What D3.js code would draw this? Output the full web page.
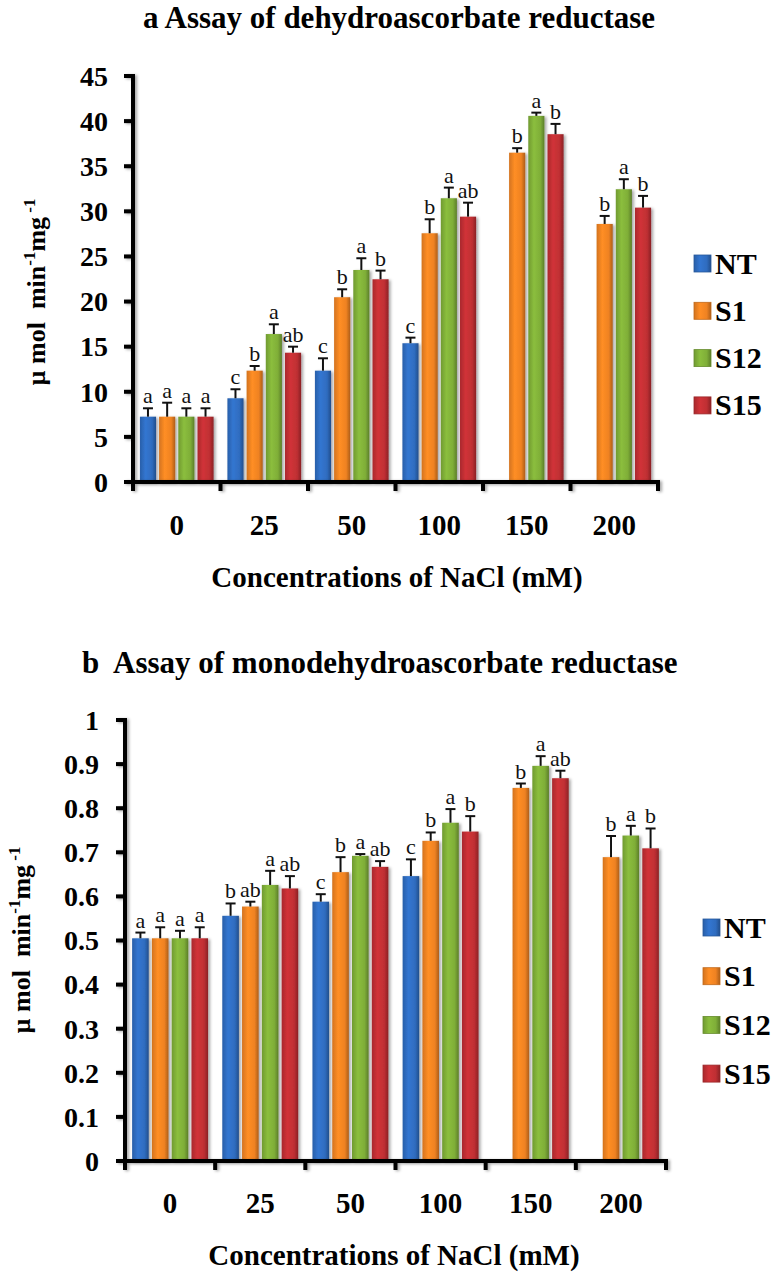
<!DOCTYPE html>
<html>
<head>
<meta charset="utf-8">
<script src="https://cdn.jsdelivr.net/npm/d3@7"></script>
<style>
  html, body { margin: 0; padding: 0; background: #fff; }
  text { font-family: "Liberation Serif", "Times New Roman", serif; }
</style>
</head>
<body>
<svg id="chart" width="774" height="1273"></svg>
<script>
// ---------- DATA ----------
const categories = ["0", "25", "50", "100", "150", "200"];
const series = ["NT", "S1", "S12", "S15"];
const colors = ["#2f6cbf", "#ef8222", "#7fae38", "#bf2f33"];

// Panel a: dehydroascorbate reductase
const aNT  = [7.24, 9.28, 12.34, 15.38, null, null];
const aS1  = [7.24, 12.34, 20.48, 27.57, 36.5, 28.6];
const aS12 = [7.24, 16.4, 23.5, 31.45, 40.58, 32.45];
const aS15 = [7.24, 14.33, 22.47, 29.41, 38.55, 30.41];
const aErrNT  = [0.93, 1.0, 1.37, 0.62, null, null];
const aErrS1  = [1.55, 0.52, 0.88, 1.55, 0.5, 0.89];
const aErrS12 = [0.93, 1.08, 1.3, 1.18, 0.36, 1.11];
const aErrS15 = [0.93, 0.67, 0.96, 1.55, 1.14, 1.3];
const aLetNT  = ["a", "c", "c", "c", "", ""];
const aLetS1  = ["a", "b", "b", "b", "b", "b"];
const aLetS12 = ["a", "a", "a", "a", "a", "a"];
const aLetS15 = ["a", "ab", "b", "ab", "b", "b"];
const aTicks = [0, 5, 10, 15, 20, 25, 30, 35, 40, 45];
const aTickLabels = ["0", "5", "10", "15", "20", "25", "30", "35", "40", "45"];

// Panel b: monodehydroascorbate reductase
const bNT  = [0.505, 0.556, 0.588, 0.646, null, null];
const bS1  = [0.505, 0.577, 0.655, 0.726, 0.846, 0.689];
const bS12 = [0.505, 0.626, 0.692, 0.767, 0.896, 0.738];
const bS15 = [0.505, 0.618, 0.667, 0.747, 0.868, 0.709];
const bErrNT  = [0.013, 0.028, 0.017, 0.038, null, null];
const bErrS1  = [0.025, 0.011, 0.034, 0.019, 0.010, 0.048];
const bErrS12 = [0.017, 0.032, 0.004, 0.031, 0.022, 0.022];
const bErrS15 = [0.025, 0.028, 0.013, 0.035, 0.017, 0.045];
const bLetNT  = ["a", "b", "c", "c", "", ""];
const bLetS1  = ["a", "ab", "b", "b", "b", "b"];
const bLetS12 = ["a", "a", "a", "a", "a", "a"];
const bLetS15 = ["a", "ab", "ab", "b", "ab", "b"];
const bTicks = [0, 0.1, 0.2, 0.3, 0.4, 0.5, 0.6, 0.7, 0.8, 0.9, 1];
const bTickLabels = ["0", "0.1", "0.2", "0.3", "0.4", "0.5", "0.6", "0.7", "0.8", "0.9", "1"];

const xTitle = "Concentrations of NaCl (mM)";

// ---------- DRAW ----------
const svg = d3.select("#chart");
svg.append("rect").attr("width", 774).attr("height", 1273).attr("fill", "#fff");

const defs = svg.append("defs");
colors.forEach((c, i) => {
  const base = d3.color(c);
  const g = defs.append("linearGradient").attr("id", "grad" + i)
    .attr("x1", "0%").attr("x2", "100%").attr("y1", "0%").attr("y2", "0%");
  g.append("stop").attr("offset", "0%").attr("stop-color", base.darker(0.35));
  g.append("stop").attr("offset", "35%").attr("stop-color", base.brighter(0.25));
  g.append("stop").attr("offset", "75%").attr("stop-color", base);
  g.append("stop").attr("offset", "100%").attr("stop-color", base.darker(0.9));
});
const filt = defs.append("filter").attr("id", "shadow")
  .attr("x", "-30%").attr("y", "-10%").attr("width", "160%").attr("height", "120%");
filt.append("feDropShadow").attr("dx", 2).attr("dy", 1).attr("stdDeviation", 1.4)
  .attr("flood-color", "#000").attr("flood-opacity", 0.35);

function panel(cfg) {
  const g = svg.append("g");
  const x = d3.scaleBand().domain(categories).range([cfg.x0, cfg.x1]).padding(0);
  const xs = d3.scaleBand().domain(series).range([0, x.bandwidth()])
    .paddingInner(0.16).paddingOuter(0.36);
  const y = d3.scaleLinear().domain([0, cfg.ymax]).range([cfg.y0, cfg.y1]);

  // bars
  const rows = [];
  categories.forEach((cat, ci) => {
    series.forEach((s, si) => {
      const v = cfg.vals[si][ci];
      if (v == null) return;
      rows.push({cat, s, si, v, e: cfg.errs[si][ci], l: cfg.lets[si][ci]});
    });
  });
  const bars = g.append("g");
  bars.selectAll("rect").data(rows).join("rect")
    .attr("x", d => x(d.cat) + xs(d.s))
    .attr("y", d => y(d.v))
    .attr("width", xs.bandwidth())
    .attr("height", d => cfg.y0 - y(d.v))
    .attr("fill", d => "url(#grad" + d.si + ")")
    .attr("filter", "url(#shadow)");

  // error bars
  const eb = g.append("g").attr("stroke", "#111").attr("stroke-width", 2);
  rows.forEach(d => {
    const cx = x(d.cat) + xs(d.s) + xs.bandwidth() / 2;
    eb.append("line").attr("x1", cx).attr("x2", cx).attr("y1", y(d.v)).attr("y2", y(d.v + d.e));
    eb.append("line").attr("x1", cx - 5).attr("x2", cx + 5).attr("y1", y(d.v + d.e)).attr("y2", y(d.v + d.e));
  });
  // letters
  g.append("g").selectAll("text").data(rows).join("text")
    .attr("x", d => x(d.cat) + xs(d.s) + xs.bandwidth() / 2)
    .attr("y", d => y(d.v + d.e) - 5)
    .attr("text-anchor", "middle")
    .attr("font-size", 22)
    .attr("fill", "#111")
    .text(d => d.l);

  // axes
  const ax = g.append("g").attr("stroke", "#000").attr("stroke-width", 4)
    .attr("stroke-linecap", "square").attr("filter", "url(#shadow)");
  ax.append("line").attr("x1", cfg.x0).attr("x2", cfg.x0).attr("y1", cfg.y0).attr("y2", cfg.y1);
  ax.append("line").attr("x1", cfg.x0).attr("x2", cfg.x1).attr("y1", cfg.y0).attr("y2", cfg.y0);
  cfg.ticks.forEach(t => {
    ax.append("line").attr("x1", cfg.x0 - 7).attr("x2", cfg.x0).attr("y1", y(t)).attr("y2", y(t));
  });
  const bounds = categories.map(c => x(c)).concat([cfg.x1]);
  bounds.forEach(b => {
    ax.append("line").attr("x1", b).attr("x2", b).attr("y1", cfg.y0).attr("y2", cfg.y0 + 7);
  });

  // y tick labels
  g.append("g").selectAll("text").data(cfg.ticks).join("text")
    .attr("x", cfg.x0 - cfg.ylabOff)
    .attr("y", t => y(t))
    .attr("dy", "0.35em")
    .attr("text-anchor", "end")
    .attr("font-size", 28).attr("font-weight", "bold")
    .text((t, i) => cfg.tickLabels[i]);

  // x tick labels
  g.append("g").selectAll("text").data(categories).join("text")
    .attr("x", c => x(c) + x.bandwidth() / 2)
    .attr("y", cfg.xlabY)
    .attr("text-anchor", "middle")
    .attr("font-size", 29).attr("font-weight", "bold")
    .text(c => c);

  // x axis title
  g.append("text").attr("x", cfg.xtitleX).attr("y", cfg.xtitleY)
    .attr("text-anchor", "middle").attr("font-size", 29).attr("font-weight", "bold")
    .text(xTitle);

  // y axis title
  const yt = g.append("text")
    .attr("transform", `translate(${cfg.ytitleX},${cfg.ytitleY}) rotate(-90)`)
    .attr("text-anchor", "middle").attr("font-size", 26).attr("font-weight", "bold")
    .style("white-space", "pre");
  yt.append("tspan").text("\u00b5 mol  min");
  yt.append("tspan").attr("font-size", 17).attr("dy", -10).text("-1");
  yt.append("tspan").attr("dy", 10).text("mg");
  yt.append("tspan").attr("font-size", 17).attr("dy", -10).text(" -1");

  // title
  g.append("text").attr("x", cfg.titleX).attr("y", cfg.titleY)
    .attr("font-size", 31).attr("font-weight", "bold")
    .style("white-space", "pre")
    .text(cfg.title);

  // legend
  const lg = g.append("g");
  series.forEach((s, i) => {
    const cy = cfg.legY + i * cfg.legStep;
    lg.append("rect").attr("x", cfg.legX).attr("y", cy - 8).attr("width", 17).attr("height", 17)
      .attr("fill", "url(#grad" + i + ")").attr("stroke", d3.color(colors[i]).darker(0.6)).attr("stroke-width", 0.8);
    lg.append("text").attr("x", cfg.legX + 21).attr("y", cy).attr("dy", "0.35em")
      .attr("font-size", 30).attr("font-weight", "bold").text(s);
  });
}

panel({
  title: "a Assay of dehydroascorbate reductase", titleX: 143, titleY: 28,
  x0: 133, x1: 658, y0: 482, y1: 76, ymax: 45,
  vals: [aNT, aS1, aS12, aS15], errs: [aErrNT, aErrS1, aErrS12, aErrS15],
  lets: [aLetNT, aLetS1, aLetS12, aLetS15],
  ticks: aTicks, tickLabels: aTickLabels, ylabOff: 25,
  xlabY: 535, xtitleX: 397, xtitleY: 587,
  ytitleX: 45, ytitleY: 292,
  legX: 694, legY: 263, legStep: 47.3
});

panel({
  title: "b  Assay of monodehydroascorbate reductase", titleX: 82, titleY: 673,
  x0: 125, x1: 666, y0: 1161, y1: 720, ymax: 1,
  vals: [bNT, bS1, bS12, bS15], errs: [bErrNT, bErrS1, bErrS12, bErrS15],
  lets: [bLetNT, bLetS1, bLetS12, bLetS15],
  ticks: bTicks, tickLabels: bTickLabels, ylabOff: 26,
  xlabY: 1213, xtitleX: 394, xtitleY: 1265,
  ytitleX: 30, ytitleY: 940,
  legX: 703, legY: 927, legStep: 48.7
});
</script>
</body>
</html>
